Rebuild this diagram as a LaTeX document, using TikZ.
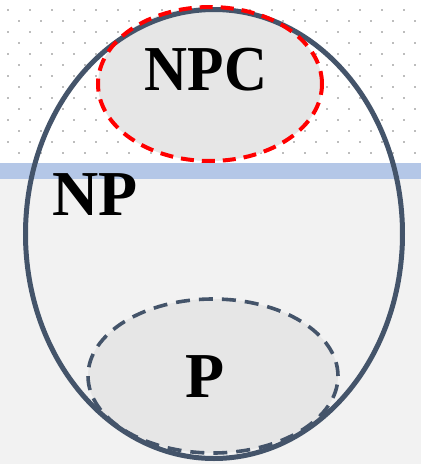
\documentclass[tikz,border=0pt]{standalone}
\usepackage{fontspec}
\setmainfont{Liberation Serif}
\usetikzlibrary{shapes.geometric}
\definecolor{edge}{HTML}{44546A}
\definecolor{band}{HTML}{B4C7E7}
\definecolor{lowbg}{HTML}{F2F2F2}
\definecolor{innerfill}{HTML}{E6E6E6}
\definecolor{dotc}{HTML}{BDBDBD}
\definecolor{npcred}{HTML}{FF0000}
\tikzset{
  setbox/.style={ellipse, inner sep=0pt, outer sep=0pt},
  biglabel/.style={font=\fontsize{64}{64}\selectfont\bfseries, inner sep=0pt, anchor=base},
}
\begin{document}
\begin{tikzpicture}[x=1pt,y=-1pt]
\useasboundingbox (0,0) rectangle (421,464);
% backgrounds
\fill[white] (0,0) rectangle (421,163);
\fill[band] (0,163) rectangle (421,179);
\fill[lowbg] (0,179) rectangle (421,464);
% dots
\foreach \k in {0,...,13}{
  \pgfmathtruncatemacro{\odd}{mod(\k,2)}
  \pgfmathsetmacro{\yy}{10+11*\k}
  \foreach \j in {0,...,19}{
    \pgfmathsetmacro{\xx}{8+11*\odd+22*\j}
    \fill[dotc] (\xx-1.3,\yy-1.3) rectangle (\xx+1.3,\yy+1.3);
  }
}
% fills
\node[setbox, fill=innerfill, minimum width=224pt, minimum height=154pt] (npc) at (210,84) {};
\node[setbox, fill=innerfill, minimum width=250pt, minimum height=154pt] (p) at (213,376) {};
% big set
\node[setbox, draw=edge, line width=5pt, minimum width=377pt, minimum height=449pt] (np) at (214,234) {};
% dashed outlines
\draw[npcred, line width=4pt, dash pattern=on 13pt off 8pt] (npc.center) ellipse [x radius=112pt, y radius=77pt];
\draw[edge, line width=3.6pt, dash pattern=on 14pt off 9pt] (p.center) ellipse [x radius=125pt, y radius=77pt];
% labels
\node[biglabel, xscale=0.93] (npctext) at (206,90) {NPC};
\node[biglabel] (nptext) at (95,215) {NP};
\node[biglabel] (ptext) at (205,397) {P};
\end{tikzpicture}
\end{document}
